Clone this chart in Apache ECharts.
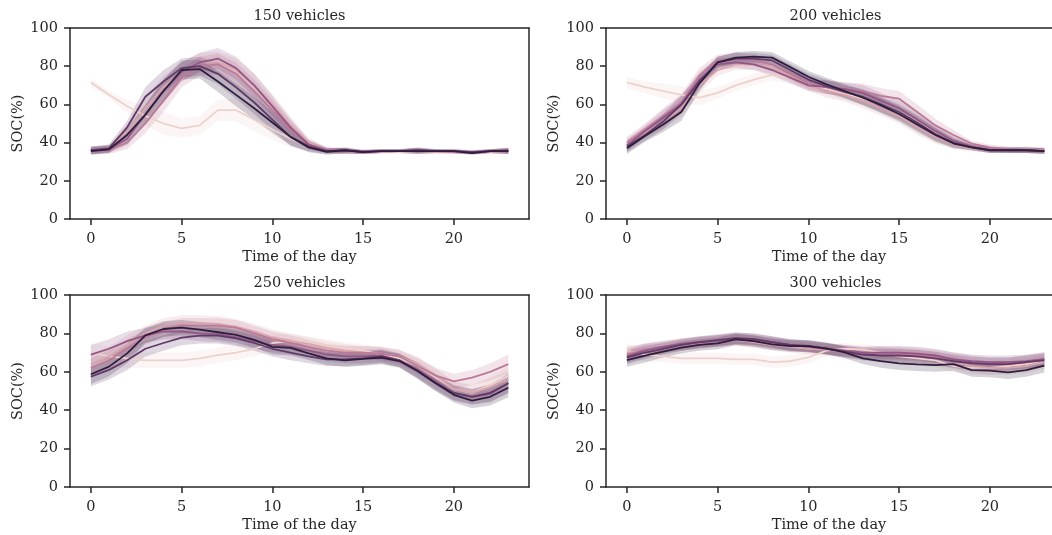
<!DOCTYPE html>
<html>
<head>
<meta charset="utf-8">
<script src="https://cdn.jsdelivr.net/npm/echarts@6/dist/echarts.min.js"></script>
<style>
  html, body { margin: 0; padding: 0; background: #ffffff; }
  #chart { width: 1052px; height: 535px; }
</style>
</head>
<body>
<div id="chart"></div>
<script>
// Hour of the day (x values shared by every panel)
const hours = [0, 1, 2, 3, 4, 5, 6, 7, 8, 9, 10, 11, 12, 13, 14, 15, 16, 17, 18, 19, 20, 21, 22, 23];
const xTicks = [0, 5, 10, 15, 20];

// Panel titles (fleet sizes)
const panelTitles = ['150 vehicles', '200 vehicles', '250 vehicles', '300 vehicles'];

// Mean SOC (%) per hour, one row per hue level (light -> dark)
const soc150 = [
  [71.5, 65, 59, 54, 50, 47.5, 49, 57, 57, 52, 47, 42, 38, 36, 35.5, 35, 35.5, 35, 35.5, 35.5, 35, 35, 35.5, 35.5],
  [36, 37, 46, 58, 69, 77, 82, 82, 78, 70, 60, 49, 40, 36, 35.5, 35, 35, 35.5, 35.5, 35, 35, 35, 35, 35.5],
  [36, 36, 40, 50, 62, 74, 80, 81, 76, 67, 57, 47, 39, 36, 35.5, 35, 35.5, 35.5, 35.5, 35.5, 35, 35, 35.5, 35.5],
  [36, 36.5, 42, 55, 67, 77, 82, 84, 79, 70, 59, 48, 39, 36, 35.5, 35.5, 35.5, 35.5, 36, 35.5, 35.5, 35, 35.5, 36],
  [36, 37, 48, 64, 72, 79, 80, 76, 69, 61, 52, 43, 38, 35.5, 36, 35, 35.5, 35.5, 36, 35.5, 35.5, 35, 35.5, 35.5],
  [35.5, 36.5, 44, 54.5, 67, 78, 78.5, 72, 65, 58, 50.5, 43, 37.5, 35.2, 36, 35, 35.5, 35.5, 35.5, 35.5, 35.5, 34.5, 35.5, 35.5]
];
const soc200 = [
  [71.5, 69, 67, 65, 63.5, 66, 70, 73, 75.5, 74, 71, 68, 65.5, 63, 59.5, 56, 51, 45.5, 41, 38, 36.5, 36, 36, 36],
  [39, 45, 51, 58, 70, 78, 81, 81, 79, 75, 70, 67, 65, 62, 58, 54, 48, 43, 39, 37, 36, 36, 36.5, 36],
  [40, 47, 54, 61, 75, 83, 84, 83, 81, 76, 71, 69, 68, 67, 64.5, 63, 56, 49, 44, 39.5, 37.5, 36.5, 36, 36],
  [38.5, 46, 53, 60, 73, 81, 82, 81, 78, 74, 70, 69, 68, 66, 62, 58, 52, 46, 41, 38, 36.5, 36, 36, 35.5],
  [38, 44, 51, 60, 72, 82, 84, 84, 83, 78, 73, 69.5, 66.5, 64, 60, 56, 50.5, 44.5, 40, 37.5, 36, 36, 36, 35.5],
  [37, 43.5, 49.5, 56, 71, 82, 84.5, 85, 84.5, 79.5, 74.5, 70.5, 67, 63.5, 59.5, 55, 49.5, 44, 39.5, 37.5, 36, 36, 36, 35.5]
];
const soc250 = [
  [70, 68, 67, 66, 66, 66, 67, 68.7, 70, 72, 75, 76, 75, 73.5, 72, 71, 69, 67, 63, 57, 51, 49, 53, 58],
  [64, 68, 74, 80, 84, 85.5, 85.5, 85, 83.5, 81, 78, 76, 74.5, 72.5, 71, 70, 69.5, 68, 64, 58, 51, 49, 52, 56],
  [62, 66, 72, 78, 82, 84, 84, 84, 83, 80, 77, 75, 73, 71, 70, 70, 69.5, 68, 63, 58, 55, 57, 60, 64],
  [69, 72, 76, 79, 81, 81, 80, 79.5, 78, 76, 74, 73, 71, 69, 68, 68, 68.5, 66, 61, 55, 49, 47, 48.5, 54],
  [57.5, 61, 66, 72, 75, 77.8, 78.8, 78.8, 77.4, 75, 72, 70, 68, 66.5, 66.5, 67, 68, 66, 60.5, 54, 49, 47, 49, 54],
  [58.7, 62.7, 69.6, 79, 82.3, 83, 82, 80.6, 79.2, 76.6, 73, 72.5, 69.6, 67, 66, 66.7, 67.4, 65.6, 60.4, 54, 48, 45, 47, 51.7]
];
const soc300 = [
  [71, 69, 68, 67, 67, 67, 66.5, 66.5, 65, 65.5, 67.5, 71, 72, 71.5, 70, 68, 67, 66, 63, 62, 62, 63, 64, 66],
  [70, 71, 72, 74, 75, 76, 76.5, 75.5, 74, 73, 72, 71.5, 70.5, 69.5, 69, 68.5, 68, 67, 65, 63, 62, 62, 63, 65],
  [69, 71.5, 73, 74, 75, 76, 77, 76, 75, 74, 73, 72, 71, 70, 69.5, 69.5, 69, 68, 66.5, 65, 64, 64, 65, 67],
  [68, 71, 73, 74.5, 75.5, 76, 77.5, 77, 75.5, 74, 73, 72, 71, 70, 70, 70, 69.5, 68.5, 66.5, 65.5, 65, 65, 65.5, 66.5],
  [67.5, 70, 72, 74, 75.5, 76.5, 77.5, 77, 75.5, 74, 73.5, 72, 70.5, 69, 68.5, 68.5, 68, 67, 65.5, 64.5, 64, 64, 65, 66],
  [66.1, 68.4, 70.5, 72.6, 74, 74.8, 76.9, 76, 74.3, 73.4, 73.4, 72.2, 70.1, 67, 65.6, 64.4, 63.9, 63.5, 64, 60.9, 60.6, 59.7, 60.9, 63.2]
];

// Half-width of the 95% confidence band per hour, per panel
const ci150 = [2, 2, 3.5, 5, 6, 5, 5, 5.5, 6, 6, 5.5, 4.5, 2.5, 1.5, 1.5, 1, 1, 1, 1.5, 1, 1, 1, 1, 1.5];
const ci200 = [3, 3, 4, 4.5, 4, 3, 3, 3, 3, 3, 3, 3.5, 3.5, 4, 4, 4, 4, 3.5, 2.5, 1.5, 1.5, 1.5, 1.5, 1.5];
const ci250 = [5, 5, 5, 4, 4, 4, 4, 4, 4, 4, 4, 4, 3.5, 3.5, 3.5, 3.5, 3.5, 3.5, 4, 4, 4, 4, 4.5, 5];
const ci300 = [3.5, 3.5, 3, 3, 3, 3, 3, 3, 3, 3, 3, 3, 3, 3, 3.5, 3.5, 3.5, 3.5, 3.5, 3.5, 3.5, 3.5, 3.5, 3.5];

// Sequential cubehelix hue palette, light to dark
const palette = ['#edd1cb', '#daa4ac', '#bd7a98', '#935685', '#613969', '#2d1e3e'];

const panels = [
  { title: panelTitles[0], mean: soc150, ci: ci150 },
  { title: panelTitles[1], mean: soc200, ci: ci200 },
  { title: panelTitles[2], mean: soc250, ci: ci250 },
  { title: panelTitles[3], mean: soc300, ci: ci300 }
];

const INK = '#262626';
const FONT = '"DejaVu Serif", serif';
const FS = 14.5;
const X_MIN = -1.15;
const PX_PER_HOUR = 18.15;
const SPINE_W = 1.5;

// Right-hand panels run past the canvas edge: their boxes stop at the
// edge (no right spine) and the x range is shortened to keep the scale.
const gridBoxes = [
  { left: 70, top: 28, width: 459, height: 191, rightSpine: true },
  { left: 606, top: 28, width: 446, height: 191, rightSpine: false },
  { left: 70, top: 295, width: 459, height: 192, rightSpine: true },
  { left: 606, top: 295, width: 446, height: 192, rightSpine: false }
];

function rgba(hex, a) {
  const n = parseInt(hex.slice(1), 16);
  return 'rgba(' + ((n >> 16) & 255) + ',' + ((n >> 8) & 255) + ',' + (n & 255) + ',' + a + ')';
}

const spineLine = { show: true, onZero: false, lineStyle: { color: INK, width: SPINE_W } };

const grids = [], xAxes = [], yAxes = [], series = [], titles = [];

panels.forEach((p, gi) => {
  const g = gridBoxes[gi];
  const xMax = X_MIN + g.width / PX_PER_HOUR;
  grids.push({ left: g.left, top: g.top, width: g.width, height: g.height, show: false });

  const xIdx = xAxes.length;
  xAxes.push({
    type: 'value', gridIndex: gi, position: 'bottom', min: X_MIN, max: xMax,
    name: 'Time of the day', nameLocation: 'middle', nameGap: 31,
    nameTextStyle: { color: INK, fontFamily: FONT, fontSize: FS },
    axisLine: spineLine,
    axisTick: { show: true, length: 6, customValues: xTicks, lineStyle: { color: INK, width: SPINE_W } },
    axisLabel: { customValues: xTicks, margin: 13, color: INK, fontFamily: FONT, fontSize: FS },
    splitLine: { show: false }
  });
  // top spine
  xAxes.push({
    type: 'value', gridIndex: gi, position: 'top', min: X_MIN, max: xMax,
    axisLine: spineLine, axisTick: { show: false }, axisLabel: { show: false }, splitLine: { show: false }
  });

  const yIdx = yAxes.length;
  yAxes.push({
    type: 'value', gridIndex: gi, position: 'left', min: 0, max: 100, interval: 20,
    name: 'SOC(%)', nameLocation: 'middle', nameGap: 44, nameRotate: 90,
    nameTextStyle: { color: INK, fontFamily: FONT, fontSize: FS },
    axisLine: spineLine,
    axisTick: { show: true, length: 6, lineStyle: { color: INK, width: SPINE_W } },
    axisLabel: { margin: 12, color: INK, fontFamily: FONT, fontSize: FS },
    splitLine: { show: false }
  });
  if (g.rightSpine) {
    yAxes.push({
      type: 'value', gridIndex: gi, position: 'right', min: 0, max: 100,
      axisLine: spineLine, axisTick: { show: false }, axisLabel: { show: false }, splitLine: { show: false }
    });
  }

  // panel title centred over the full axes box
  titles.push({
    type: 'text', silent: true,
    position: [g.left + 459 / 2, g.top - 12],
    style: { text: p.title, fill: INK, font: FS + 'px ' + FONT, textAlign: 'center', textVerticalAlign: 'middle' }
  });

  p.mean.forEach((row, si) => {
    const color = palette[si];
    const pts = hours.map((h, i) => [h, row[i]]);
    // mean line
    series.push({
      type: 'line', xAxisIndex: xIdx, yAxisIndex: yIdx, data: pts,
      showSymbol: false, symbol: 'none', silent: true, animation: false,
      lineStyle: { color: color, width: 1.8 }, z: 2
    });
    // confidence band
    const band = hours.map((h, i) => [h, row[i] - p.ci[i], row[i] + p.ci[i]]);
    series.push({
      type: 'custom', xAxisIndex: xIdx, yAxisIndex: yIdx, data: band,
      encode: { x: 0, y: [1, 2] }, silent: true, animation: false, z: 2,
      renderItem: function (params, api) {
        if (params.dataIndex !== 0) return;
        const up = band.map(d => api.coord([d[0], d[2]]));
        const lo = band.map(d => api.coord([d[0], d[1]])).reverse();
        return {
          type: 'polygon',
          shape: { points: up.concat(lo) },
          style: { fill: rgba(color, 0.2) }
        };
      }
    });
  });
});

const chart = echarts.init(document.getElementById('chart'), null, { renderer: 'canvas' });
chart.setOption({
  animation: false,
  backgroundColor: '#ffffff',
  textStyle: { fontFamily: FONT },
  grid: grids,
  xAxis: xAxes,
  yAxis: yAxes,
  series: series,
  graphic: titles
});
</script>
</body>
</html>
